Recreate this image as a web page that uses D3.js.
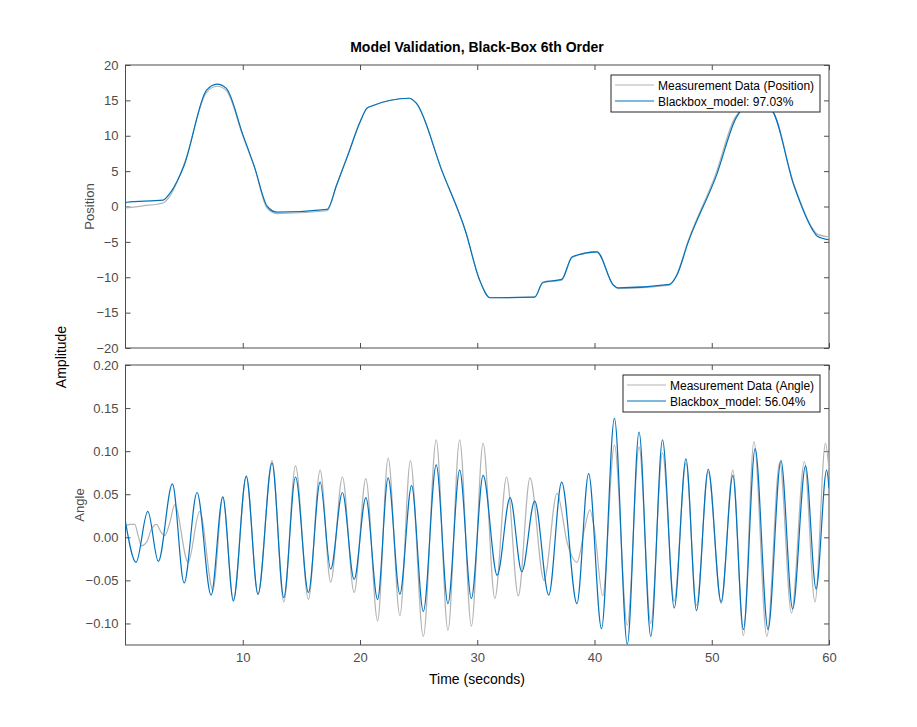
<!DOCTYPE html>
<html>
<head>
<meta charset="UTF-8">
<title>Model Validation</title>
<script src="https://d3js.org/d3.v7.min.js"></script>
<style>
  body { margin: 0; background: #fff; }
  text { font-family: "Liberation Sans", Arial, sans-serif; }
  .tick text { fill: #4d4d4d; font-size: 13px; }
  .tick line, .domain { stroke: #4d4d4d; }
</style>
</head>
<body>
<svg id="chart" width="917" height="727"></svg>
<script>
// [time (s), value]
const posMeas = [[0,-0.2],[1.5,0.1],[3.2,0.5],[3.8,1.5],[5,6],[6.9,16.1],[7.8,17],[8.6,16.4],[10,10],[11,5.5],[12.1,-0.3],[12.9,-1],[17.2,-0.6],[18,3],[19,7.5],[20,12],[20.6,13.9],[21,14.2],[24.2,15.3],[24.8,14.6],[27,5],[29,-3.5],[30.2,-10.4],[31.1,-12.9],[34.9,-12.8],[35.6,-10.8],[37.2,-10.4],[38.1,-7.2],[40.2,-6.4],[41.6,-11.1],[42,-11.6],[46.4,-11.1],[47,-9.7],[48,-4.8],[50.3,4.4],[52,12.6],[53.5,14.5],[55.1,13.6],[57,3.2],[58.6,-3.1],[59,-3.9],[60,-4.3]];
const posModel = [[0,0.4],[0.1,0.6],[3.2,0.9],[3.8,1.9],[5,5.8],[6.9,16.4],[7.8,17.3],[8.6,16.7],[10,10.2],[11,5.6],[12.1,0],[12.9,-0.8],[17.2,-0.4],[18,3],[19,7.4],[20,11.9],[20.6,13.9],[21,14.2],[24.2,15.3],[24.8,14.6],[27,5],[29,-3.5],[30.2,-10.4],[31.1,-12.9],[34.9,-12.8],[35.6,-10.7],[37.2,-10.3],[38.1,-7.1],[40.2,-6.4],[41.6,-11.1],[42,-11.5],[46.4,-11],[47,-9.8],[48,-5],[50.4,4.4],[52.1,12.6],[53.5,14.6],[55.1,13.6],[57,3],[58.6,-3.3],[59,-4.2],[60,-4.7]];
const angMeas = [[0,0.013],[0.37,0.015],[0.79,0.015],[1.08,0.002],[1.36,-0.010],[1.79,-0.006],[2.2,0.009],[2.64,0.015],[3.07,0.005],[3.35,0.002],[3.78,0.017],[4.2,0.038],[5.34,-0.029],[6.33,0.030],[7.47,-0.062],[8.3,0.047],[9.2,-0.072],[10.3,0.070],[11.3,-0.066],[12.5,0.089],[13.5,-0.075],[14.5,0.083],[15.6,-0.072],[16.6,0.078],[17.5,-0.052],[18.5,0.070],[19.5,-0.064],[20.5,0.068],[21.5,-0.097],[22.4,0.092],[23.4,-0.091],[24.3,0.089],[25.4,-0.115],[26.5,0.113],[27.5,-0.108],[28.5,0.113],[29.5,-0.103],[30.5,0.109],[31.5,-0.071],[32.5,0.070],[33.5,-0.068],[34.5,0.069],[35.7,-0.050],[36.8,0.051],[37.7,-0.008],[38.5,-0.029],[39.2,0.013],[39.6,0.032],[40.0,0.009],[40.7,-0.068],[41.7,0.107],[42.8,-0.102],[43.8,0.105],[44.8,-0.100],[45.8,0.098],[46.8,-0.074],[47.8,0.086],[48.7,-0.079],[49.7,0.076],[50.8,-0.077],[51.8,0.078],[52.7,-0.114],[53.6,0.111],[54.7,-0.115],[55.8,0.087],[56.8,-0.088],[57.9,0.088],[58.8,-0.075],[59.7,0.109],[60,0.078]];
const angModel = [[0,0.018],[0.9,-0.029],[1.9,0.030],[2.8,-0.028],[4.0,0.062],[5.0,-0.053],[6.1,0.052],[7.3,-0.067],[8.3,0.047],[9.2,-0.074],[10.3,0.071],[11.3,-0.066],[12.5,0.086],[13.5,-0.070],[14.5,0.070],[15.6,-0.064],[16.6,0.064],[17.5,-0.037],[18.5,0.052],[19.5,-0.049],[20.5,0.046],[21.5,-0.072],[22.4,0.069],[23.4,-0.066],[24.4,0.060],[25.4,-0.086],[26.5,0.084],[27.5,-0.077],[28.5,0.078],[29.5,-0.071],[30.5,0.072],[31.7,-0.044],[32.8,0.046],[33.8,-0.040],[34.9,0.042],[36.1,-0.067],[37.2,0.064],[38.5,-0.077],[39.5,0.074],[40.6,-0.106],[41.7,0.138],[42.8,-0.124],[43.8,0.122],[44.8,-0.115],[45.8,0.113],[46.8,-0.082],[47.8,0.091],[48.7,-0.085],[49.7,0.079],[50.8,-0.075],[51.8,0.072],[52.7,-0.107],[53.7,0.103],[54.8,-0.107],[55.9,0.089],[56.9,-0.083],[58.0,0.083],[58.9,-0.060],[59.8,0.078],[60,0.057]];
const posTicks = [-20,-15,-10,-5,0,5,10,15,20];
const angTicks = [-0.1,-0.05,0,0.05,0.1,0.15,0.2];
const timeTicks = [10,20,30,40,50,60];

const svg = d3.select("#chart");
const gray = "#b3b3b3", blue = "#0072bd";
const left = 125.5, right = 829;
const x = d3.scaleLinear().domain([0, 60]).range([left, right]);

function panel(top, bottom, ydom, yticks, label, meas, model, legend, showX) {
  const y = d3.scaleLinear().domain(ydom).range([bottom, top]);
  const g = svg.append("g");
  const clipId = "clip" + label;
  svg.append("clipPath").attr("id", clipId).append("rect")
    .attr("x", left).attr("y", top).attr("width", right - left).attr("height", bottom - top);

  g.append("g").attr("transform", `translate(0,${bottom})`)
    .call(d3.axisBottom(x).tickValues(timeTicks).tickSize(-5).tickPadding(8)
      .tickFormat(showX ? d3.format("d") : ""));
  g.append("g").attr("transform", `translate(0,${top})`)
    .call(d3.axisTop(x).tickValues(timeTicks).tickSize(-5).tickFormat(""));
  g.append("g").attr("transform", `translate(${left},0)`)
    .call(d3.axisLeft(y).tickValues(yticks).tickSize(-5).tickPadding(7));
  g.append("g").attr("transform", `translate(${right},0)`)
    .call(d3.axisRight(y).tickValues(yticks).tickSize(-5).tickFormat(""));
  g.selectAll(".domain").remove();
  g.append("rect").attr("x", left).attr("y", top).attr("width", right - left)
    .attr("height", bottom - top).attr("fill", "none").attr("stroke", "#4d4d4d");

  const line = d3.line().x(d => x(d[0])).y(d => y(d[1])).curve(d3.curveMonotoneX);
  const lines = g.append("g").attr("clip-path", `url(#${clipId})`);
  lines.append("path").datum(meas).attr("d", line).attr("fill", "none")
    .attr("stroke", gray).attr("stroke-width", 1.2);
  lines.append("path").datum(model).attr("d", line).attr("fill", "none")
    .attr("stroke", blue).attr("stroke-width", 1.2);

  g.append("text").attr("transform", `translate(${label === "Position" ? 94 : 84},${(top + bottom) / 2}) rotate(-90)`)
    .attr("text-anchor", "middle").attr("fill", "#4d4d4d").attr("font-size", 13).text(label);

  const lg = g.append("g").attr("transform", `translate(${legend.x},${top + 10})`);
  lg.append("rect").attr("width", legend.w).attr("height", 37).attr("fill", "#fff").attr("stroke", "#262626");
  legend.items.forEach((t, i) => {
    lg.append("line").attr("x1", 4).attr("x2", 43).attr("y1", 10 + i * 16).attr("y2", 10 + i * 16)
      .attr("stroke", i ? blue : gray).attr("stroke-width", 1.2);
    lg.append("text").attr("x", 47).attr("y", 14.5 + i * 16).attr("font-size", 12).attr("fill", "#000").text(t);
  });
}

panel(65, 348, [-20, 20], posTicks, "Position", posMeas, posModel,
  { x: 611, w: 209, items: ["Measurement Data (Position)", "Blackbox_model: 97.03%"] }, false);
panel(365, 645, [-0.125, 0.2], angTicks, "Angle", angMeas, angModel,
  { x: 623, w: 197, items: ["Measurement Data (Angle)", "Blackbox_model: 56.04%"] }, true);

svg.append("text").attr("x", 477).attr("y", 52).attr("text-anchor", "middle")
  .attr("font-size", 14).attr("font-weight", "bold").attr("fill", "#000")
  .text("Model Validation, Black-Box 6th Order");
svg.append("text").attr("transform", "translate(66,357) rotate(-90)").attr("text-anchor", "middle")
  .attr("font-size", 14).attr("fill", "#000").text("Amplitude");
svg.append("text").attr("x", 477).attr("y", 684).attr("text-anchor", "middle")
  .attr("font-size", 14).attr("fill", "#000").text("Time (seconds)");
</script>
</body>
</html>
